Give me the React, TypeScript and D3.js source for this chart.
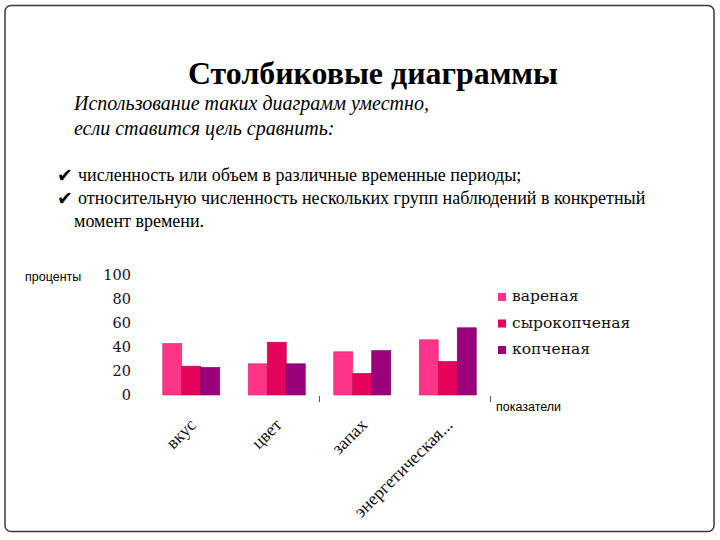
import React, { useEffect, useRef } from 'react';
import * as d3 from 'd3';

// chart data
const categories = ['вкус', 'цвет', 'запах', 'энергетическая...'];
const seriesNames = ['вареная', 'сырокопченая', 'копченая'];
const varenaya = [43, 26, 36, 46];
const syrokopchenaya = [24, 44, 18, 28];
const kopchenaya = [23, 26, 37, 56];
const yTicks = [0, 20, 40, 60, 80, 100];
const bulletLines = [
  'численность или объем в различные временные периоды;',
  'относительную численность нескольких групп наблюдений в конкретный',
];

const COLORS = ['#fd3488', '#e5035c', '#990079'];
const STROKES = ['#d42a72', '#bf024c', '#7d0063'];

const App: React.FC = () => {
  const svgRef = useRef<SVGSVGElement>(null);
  const WIDTH = 720;
  const HEIGHT = 540;

  useEffect(() => {
    if (!svgRef.current) return;
    const svg = d3.select(svgRef.current);
    svg.selectAll('*').remove();

    // frame
    svg.append('rect')
      .attr('x', 5).attr('y', 5.5)
      .attr('width', 709).attr('height', 526)
      .attr('rx', 6)
      .attr('fill', 'white')
      .attr('stroke', '#3a3a3a')
      .attr('stroke-width', 1.5);

    const serif = '"Liberation Serif", "Times New Roman", serif';
    const sans = '"Liberation Sans", Arial, sans-serif';

    // heading
    svg.append('text')
      .attr('x', 373).attr('y', 84)
      .attr('text-anchor', 'middle')
      .attr('font-family', serif)
      .attr('font-weight', 'bold')
      .attr('font-size', 32)
      .attr('textLength', 370)
      .attr('lengthAdjust', 'spacingAndGlyphs')
      .text('Столбиковые диаграммы');

    const intro = ['Использование таких диаграмм уместно,', 'если ставится цель сравнить:'];
    intro.forEach((t, i) => {
      svg.append('text')
        .attr('x', 74).attr('y', 110 + i * 25)
        .attr('font-family', serif)
        .attr('font-style', 'italic')
        .attr('font-size', 20)
        .text(t);
    });

    bulletLines.forEach((t, i) => {
      const y = 181 + i * 23;
      svg.append('text')
        .attr('x', 57).attr('y', y + 1)
        .attr('font-family', '"DejaVu Sans", sans-serif')
        .attr('font-size', 19)
        .text('✔');
      svg.append('text')
        .attr('x', 78).attr('y', y)
        .attr('font-family', serif)
        .attr('font-size', 18)
        .text(t);
    });
    svg.append('text')
      .attr('x', 74).attr('y', 227)
      .attr('font-family', serif)
      .attr('font-size', 18)
      .text('момент времени.');

    // --- chart ---
    const x0 = d3.scaleBand<string>().domain(categories).range([148.5, 490.5]).paddingInner(0).paddingOuter(0);
    const inner = 57;
    const x1 = d3.scaleBand<string>().domain(seriesNames).range([0, inner]);
    const y = d3.scaleLinear().domain([0, 100]).range([395, 275]);

    const g = svg.append('g');

    // y tick labels
    g.selectAll('text.ytick')
      .data(yTicks)
      .join('text')
      .attr('class', 'ytick')
      .attr('x', 131)
      .attr('y', d => y(d) + 5)
      .attr('text-anchor', 'end')
      .attr('font-family', '"DejaVu Serif", serif')
      .attr('font-size', 14.5)
      .attr('fill', '#111')
      .text(d => d);

    const series = [varenaya, syrokopchenaya, kopchenaya];
    series.forEach((vals, si) => {
      g.selectAll(`rect.s${si}`)
        .data(vals)
        .join('rect')
        .attr('class', `s${si}`)
        .attr('x', (d, i) => (x0(categories[i]) as number) + (x0.bandwidth() - inner) / 2 + (x1(seriesNames[si]) as number))
        .attr('y', d => y(d))
        .attr('width', x1.bandwidth())
        .attr('height', d => y(0) - y(d))
        .attr('fill', COLORS[si])
        .attr('stroke', STROKES[si])
        .attr('stroke-width', 0.6);
    });

    // only two axis ticks show in the original
    [2, 4].forEach(idx => {
      const tx = idx < categories.length ? (x0(categories[idx]) as number) : x0.range()[1];
      g.append('line')
        .attr('x1', tx).attr('x2', tx)
        .attr('y1', y(0) + 1).attr('y2', y(0) + 7)
        .attr('stroke', '#555')
        .attr('stroke-width', 1);
    });

    // x labels, rotated
    categories.forEach(c => {
      const cx = (x0(c) as number) + x0.bandwidth() / 2;
      g.append('text')
        .attr('transform', `translate(${cx + 6},${y(0) + 31}) rotate(-45)`)
        .attr('text-anchor', 'end')
        .attr('font-family', serif)
        .attr('font-size', 18)
        .attr('fill', '#111')
        .text(c);
    });

    // axis titles
    g.append('text')
      .attr('x', 25).attr('y', 281)
      .attr('font-family', sans)
      .attr('font-size', 12.5)
      .text('проценты');
    g.append('text')
      .attr('x', 496).attr('y', 411)
      .attr('font-family', sans)
      .attr('font-size', 12.5)
      .text('показатели');

    // legend
    seriesNames.forEach((name, i) => {
      const ly = 301 + i * 26.5;
      g.append('rect')
        .attr('x', 498).attr('y', ly - 8)
        .attr('width', 8).attr('height', 8)
        .attr('fill', COLORS[i]);
      g.append('text')
        .attr('x', 512).attr('y', ly)
        .attr('font-family', '"DejaVu Serif", serif')
        .attr('font-size', 15.5)
        .attr('fill', '#111')
        .text(name);
    });
  }, []);

  return (
    <svg
      ref={svgRef}
      width={WIDTH}
      height={HEIGHT}
      viewBox={`0 0 ${WIDTH} ${HEIGHT}`}
      style={{ position: 'absolute', left: 0, top: 0, display: 'block' }}
    />
  );
};

export default App;
